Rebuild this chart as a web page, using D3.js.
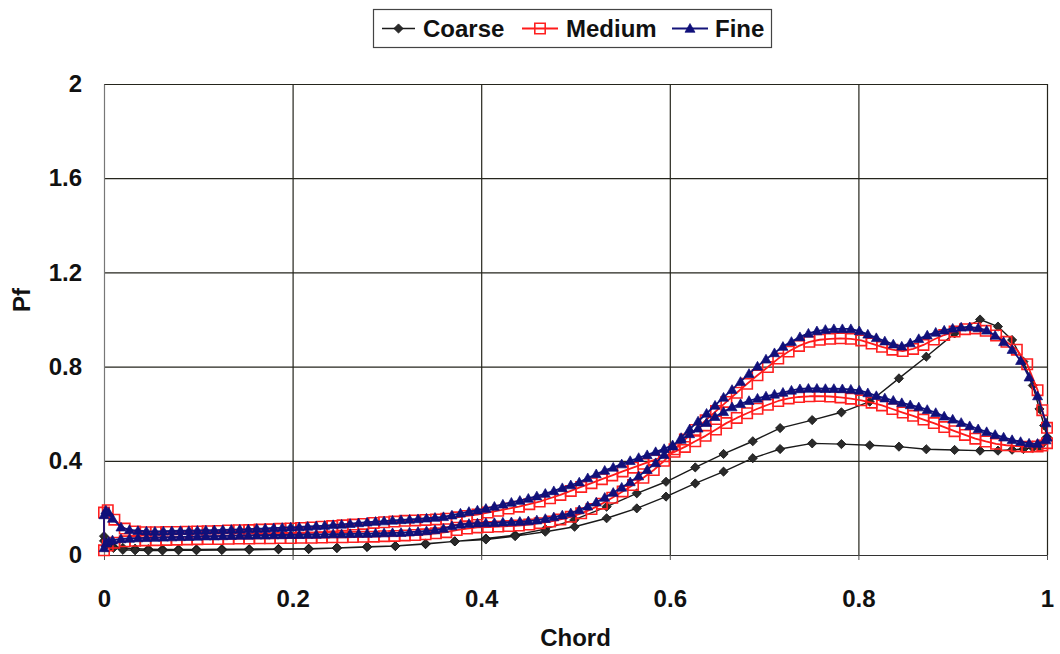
<!DOCTYPE html>
<html>
<head>
<meta charset="utf-8">
<script src="https://cdn.jsdelivr.net/npm/d3@7"></script>
<style>
  html, body { margin: 0; padding: 0; background: #fff; }
  svg { display: block; }
  text { font-family: "Liberation Sans", Arial, sans-serif; font-weight: bold; fill: #111; }
</style>
</head>
<body>
<svg id="chart" width="1060" height="654"></svg>
<script>
// Pf distribution along the chord for three grid resolutions.
// Each grid gives two surfaces: surface A (the one with the double peak)
// and surface B (the one with the plateau), both listed from x = 0 to x = 1.

const seriesNames = ["Coarse", "Medium", "Fine"];

const coarseX = [0,0.003,0.01,0.02,0.033,0.047,0.062,0.079,0.098,0.125,
  0.154,0.185,0.217,0.247,0.279,0.309,0.341,0.372,0.405,0.436,
  0.468,0.499,0.533,0.565,0.596,0.627,0.657,0.688,0.717,0.751,
  0.782,0.812,0.843,0.872,0.902,0.929,0.948,0.963,0.975,0.985,
  0.992,0.997,1];
const coarseA = [0.06,0.045,0.035,0.03,0.027,0.025,0.024,0.024,0.024,0.025,
  0.025,0.026,0.027,0.03,0.034,0.038,0.046,0.058,0.07,0.085,
  0.11,0.15,0.205,0.262,0.311,0.372,0.429,0.483,0.539,0.573,
  0.606,0.651,0.75,0.842,0.941,1.0,0.97,0.913,0.821,0.72,
  0.62,0.55,0.5];
const coarseB = [0.08,0.05,0.03,0.022,0.02,0.019,0.019,0.02,0.02,0.021,
  0.022,0.024,0.025,0.03,0.035,0.038,0.048,0.058,0.066,0.08,
  0.099,0.12,0.156,0.198,0.248,0.304,0.354,0.411,0.45,0.474,
  0.471,0.466,0.46,0.449,0.446,0.443,0.443,0.447,0.45,0.455,
  0.46,0.48,0.5];

const mediumX = [0,0.004,0.011,0.022,0.033,0.044,0.055,0.066,0.077,0.088,
  0.099,0.11,0.121,0.132,0.143,0.154,0.165,0.176,0.187,0.198,
  0.209,0.22,0.231,0.242,0.253,0.264,0.275,0.286,0.297,0.308,
  0.319,0.33,0.341,0.352,0.363,0.374,0.385,0.396,0.407,0.418,
  0.429,0.44,0.451,0.462,0.473,0.484,0.495,0.506,0.517,0.528,
  0.539,0.55,0.561,0.572,0.583,0.594,0.605,0.616,0.627,0.638,
  0.649,0.66,0.671,0.682,0.693,0.704,0.715,0.726,0.737,0.748,
  0.759,0.77,0.781,0.792,0.803,0.814,0.825,0.836,0.847,0.858,
  0.869,0.88,0.891,0.902,0.913,0.924,0.935,0.946,0.957,0.968,
  0.979,0.99,0.995,1];
const mediumA = [0.020,0.040,0.052,0.058,0.060,0.062,0.063,0.064,0.065,0.066,
  0.067,0.068,0.068,0.069,0.070,0.070,0.071,0.071,0.072,0.072,
  0.073,0.073,0.074,0.075,0.075,0.076,0.077,0.078,0.080,0.081,
  0.083,0.085,0.088,0.092,0.097,0.106,0.112,0.117,0.119,0.121,
  0.123,0.125,0.129,0.135,0.142,0.151,0.162,0.177,0.195,0.218,
  0.243,0.270,0.297,0.328,0.361,0.400,0.449,0.490,0.531,0.572,
  0.611,0.650,0.689,0.727,0.763,0.798,0.834,0.864,0.888,0.905,
  0.914,0.918,0.920,0.918,0.911,0.898,0.884,0.872,0.866,0.875,
  0.892,0.915,0.934,0.949,0.959,0.962,0.952,0.932,0.905,0.872,
  0.810,0.700,0.615,0.540];
const mediumB = [0.180,0.190,0.150,0.112,0.100,0.097,0.097,0.098,0.098,0.099,
  0.100,0.101,0.102,0.104,0.105,0.106,0.108,0.109,0.111,0.113,
  0.115,0.117,0.120,0.123,0.126,0.129,0.132,0.136,0.139,0.142,
  0.145,0.147,0.149,0.151,0.154,0.160,0.166,0.172,0.180,0.188,
  0.197,0.205,0.216,0.227,0.241,0.255,0.272,0.289,0.305,0.322,
  0.338,0.355,0.371,0.387,0.403,0.419,0.438,0.459,0.483,0.506,
  0.533,0.560,0.582,0.602,0.621,0.638,0.654,0.665,0.671,0.674,
  0.675,0.673,0.669,0.664,0.657,0.647,0.635,0.620,0.605,0.591,
  0.575,0.560,0.543,0.526,0.510,0.494,0.482,0.472,0.466,0.462,
  0.460,0.461,0.465,0.475];

const fineX = [0,0.002,0.005,0.009,0.018,0.027,0.036,0.045,0.054,0.063,
  0.072,0.081,0.09,0.099,0.108,0.117,0.126,0.135,0.144,0.153,
  0.162,0.171,0.18,0.189,0.198,0.207,0.216,0.225,0.234,0.243,
  0.252,0.261,0.27,0.279,0.288,0.297,0.306,0.315,0.324,0.333,
  0.342,0.351,0.36,0.369,0.378,0.387,0.396,0.405,0.414,0.423,
  0.432,0.441,0.45,0.459,0.468,0.477,0.486,0.495,0.504,0.513,
  0.522,0.531,0.54,0.549,0.558,0.567,0.576,0.585,0.594,0.603,
  0.612,0.621,0.63,0.639,0.648,0.657,0.666,0.675,0.684,0.693,
  0.702,0.711,0.72,0.729,0.738,0.747,0.756,0.765,0.774,0.783,
  0.792,0.801,0.81,0.819,0.828,0.837,0.846,0.855,0.864,0.873,
  0.882,0.891,0.9,0.909,0.918,0.927,0.936,0.945,0.954,0.963,
  0.972,0.981,0.99,0.999,1];
const fineA = [0.030,0.050,0.058,0.063,0.068,0.070,0.072,0.073,0.074,0.075,
  0.076,0.077,0.078,0.079,0.080,0.080,0.081,0.082,0.083,0.083,
  0.084,0.084,0.085,0.085,0.086,0.086,0.087,0.087,0.088,0.089,
  0.089,0.090,0.091,0.091,0.092,0.093,0.094,0.095,0.097,0.099,
  0.102,0.106,0.112,0.123,0.130,0.133,0.135,0.136,0.137,0.139,
  0.140,0.142,0.144,0.148,0.154,0.161,0.169,0.178,0.191,0.207,
  0.224,0.244,0.265,0.287,0.310,0.335,0.362,0.391,0.426,0.462,
  0.498,0.534,0.568,0.601,0.635,0.669,0.702,0.736,0.770,0.801,
  0.831,0.858,0.885,0.906,0.926,0.941,0.951,0.957,0.960,0.960,
  0.960,0.951,0.937,0.922,0.908,0.895,0.886,0.900,0.918,0.933,
  0.945,0.954,0.962,0.967,0.968,0.964,0.954,0.932,0.905,0.872,
  0.825,0.755,0.675,0.560,0.500];
const fineB = [0.170,0.190,0.180,0.155,0.118,0.107,0.103,0.101,0.100,0.101,
  0.102,0.103,0.103,0.104,0.105,0.106,0.107,0.108,0.109,0.110,
  0.112,0.113,0.115,0.116,0.118,0.119,0.121,0.123,0.125,0.128,
  0.130,0.133,0.136,0.139,0.142,0.144,0.147,0.149,0.151,0.153,
  0.156,0.159,0.162,0.169,0.177,0.184,0.190,0.197,0.206,0.215,
  0.223,0.231,0.240,0.250,0.261,0.272,0.285,0.297,0.309,0.327,
  0.344,0.359,0.372,0.386,0.400,0.413,0.425,0.438,0.451,0.467,
  0.490,0.514,0.538,0.562,0.587,0.608,0.628,0.642,0.655,0.665,
  0.674,0.682,0.690,0.699,0.705,0.707,0.707,0.706,0.706,0.705,
  0.703,0.699,0.688,0.676,0.666,0.656,0.646,0.637,0.628,0.617,
  0.604,0.589,0.576,0.562,0.548,0.535,0.523,0.511,0.500,0.489,
  0.481,0.474,0.473,0.488,0.500];

const xTickValues = [0, 0.2, 0.4, 0.6, 0.8, 1];
const xTickLabels = ["0", "0.2", "0.4", "0.6", "0.8", "1"];
const yTickValues = [0, 0.4, 0.8, 1.2, 1.6, 2];
const yTickLabels = ["0", "0.4", "0.8", "1.2", "1.6", "2"];
const xTitle = "Chord";
const yTitle = "Pf";

// ---- sanity check on the hand-entered tables ----
[[coarseX, coarseA, coarseB], [mediumX, mediumA, mediumB], [fineX, fineA, fineB]]
  .forEach((t, i) => {
    if (t[0].length !== t[1].length || t[0].length !== t[2].length)
      throw new Error(seriesNames[i] + " length mismatch: " + t.map(a => a.length).join(","));
  });

// ---- layout ----
const plot = { left: 104, right: 1047, top: 84, bottom: 555 };
const svg = d3.select("#chart");

const x = d3.scaleLinear().domain([0, 1]).range([plot.left, plot.right]);
const y = d3.scaleLinear().domain([0, 2]).range([plot.bottom, plot.top]);

// gridlines
const gridColor = "#25251c";
svg.append("g")
  .attr("transform", `translate(0,${plot.bottom})`)
  .call(d3.axisBottom(x).tickValues(xTickValues.slice(1))
    .tickSize(-(plot.bottom - plot.top)).tickFormat(""))
  .call(g => g.select(".domain").remove())
  .call(g => g.selectAll("line").attr("stroke", gridColor).attr("stroke-width", 1.2));
svg.append("g")
  .attr("transform", `translate(${plot.left},0)`)
  .call(d3.axisLeft(y).tickValues(yTickValues.slice(1))
    .tickSize(-(plot.right - plot.left)).tickFormat(""))
  .call(g => g.select(".domain").remove())
  .call(g => g.selectAll("line").attr("stroke", gridColor).attr("stroke-width", 1.2));

// axes
const xAxis = svg.append("g")
  .attr("transform", `translate(0,${plot.bottom})`)
  .call(d3.axisBottom(x).tickValues(xTickValues)
    .tickFormat((d, i) => xTickLabels[i]).tickSize(5).tickSizeOuter(0).tickPadding(30));
xAxis.select(".domain").attr("stroke", "#333").attr("stroke-width", 1.2);
xAxis.selectAll("line").attr("stroke", "#555");
xAxis.selectAll("text").attr("font-size", 24).attr("fill", "#111")
  .attr("font-family", "'Liberation Sans', Arial, sans-serif").attr("font-weight", "bold");

const yAxis = svg.append("g")
  .attr("transform", `translate(${plot.left},0)`)
  .call(d3.axisLeft(y).tickValues(yTickValues)
    .tickFormat((d, i) => yTickLabels[i]).tickSize(0).tickSizeOuter(0).tickPadding(22));
yAxis.select(".domain").attr("stroke", "#777").attr("stroke-width", 1.2);
yAxis.selectAll("text").attr("font-size", 24).attr("fill", "#111")
  .attr("font-family", "'Liberation Sans', Arial, sans-serif").attr("font-weight", "bold");

// axis titles
svg.append("text")
  .attr("x", (plot.left + plot.right) / 2).attr("y", 646)
  .attr("text-anchor", "middle").attr("font-size", 24).text(xTitle);
svg.append("text")
  .attr("transform", `translate(30,300) rotate(-90)`)
  .attr("text-anchor", "middle").attr("font-size", 24).text(yTitle);

// ---- marker shapes ----
const markerPath = {
  diamond: r => `M0,${-r}L${r},0L0,${r}L${-r},0Z`,
  square: r => `M${-r},${-r}H${r}V${r}H${-r}Z`,
  triangle: r => `M0,${-r}L${r},${r * 0.75}L${-r},${r * 0.75}Z`
};

const styles = [
  { name: seriesNames[0], xs: coarseX, a: coarseA, b: coarseB, line: "#1a1a1a", lw: 1.4,
    shape: "diamond", r: 4.6, fill: "#2a2a2a", stroke: "#111", sw: 0.8 },
  { name: seriesNames[1], xs: mediumX, a: mediumA, b: mediumB, line: "#ff1a1a", lw: 1.8,
    shape: "square", r: 5.2, fill: "none", stroke: "#ff2020", sw: 1.6 },
  { name: seriesNames[2], xs: fineX, a: fineA, b: fineB, line: "#14147a", lw: 1.8,
    shape: "triangle", r: 5, fill: "#10107a", stroke: "#10107a", sw: 0.7 }
];

const line = d3.line().x(d => x(d[0])).y(d => y(d[1]));

styles.forEach(s => {
  const surfA = s.xs.map((v, i) => [v, s.a[i]]);
  const surfB = s.xs.map((v, i) => [v, s.b[i]]);
  // one continuous trace: along surface A to the trailing edge, back along surface B
  const trace = surfA.concat(surfB.slice().reverse());
  const g = svg.append("g").attr("class", "series");
  g.append("path").datum(trace.concat([trace[0]]))
    .attr("d", line).attr("fill", "none")
    .attr("stroke", s.line).attr("stroke-width", s.lw).attr("stroke-linejoin", "round");
  g.selectAll("path.mk").data(trace).join("path").attr("class", "mk")
    .attr("transform", d => `translate(${x(d[0])},${y(d[1])})`)
    .attr("d", markerPath[s.shape](s.r))
    .attr("fill", s.fill).attr("stroke", s.stroke).attr("stroke-width", s.sw);
});

// ---- legend ----
const legend = svg.append("g");
legend.append("rect").attr("x", 373.5).attr("y", 9.5).attr("width", 398).attr("height", 38)
  .attr("fill", "#fff").attr("stroke", "#444").attr("stroke-width", 1.2);
const legendItems = [
  { x0: 382, x1: 415, tx: 423 },
  { x0: 522, x1: 558, tx: 566 },
  { x0: 672, x1: 708, tx: 715 }
];
styles.forEach((s, i) => {
  const it = legendItems[i];
  const cy = 28.5;
  legend.append("line").attr("x1", it.x0).attr("x2", it.x1).attr("y1", cy).attr("y2", cy)
    .attr("stroke", s.line).attr("stroke-width", s.lw);
  legend.append("path")
    .attr("transform", `translate(${(it.x0 + it.x1) / 2},${cy})`)
    .attr("d", markerPath[s.shape](s.r))
    .attr("fill", s.fill).attr("stroke", s.stroke).attr("stroke-width", s.sw);
  legend.append("text").attr("x", it.tx).attr("y", 37).attr("font-size", 24).text(s.name);
});
</script>
</body>
</html>
